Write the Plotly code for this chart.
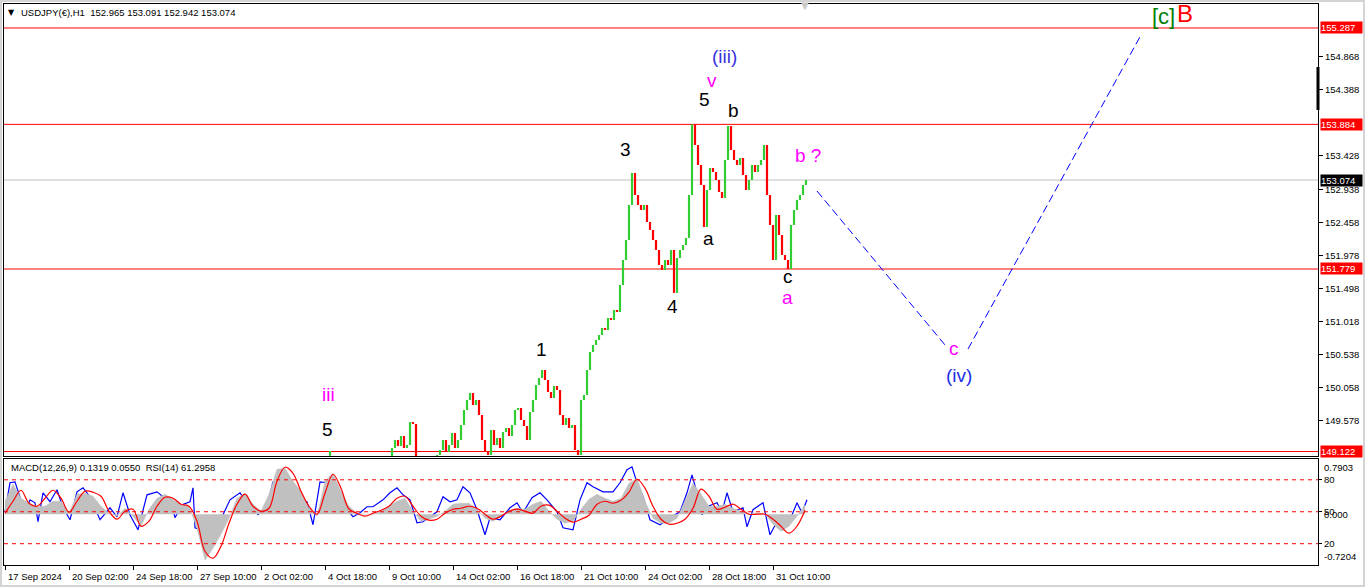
import plotly.graph_objects as go

# ---------------- data ----------------
title_text = "USDJPY(€),H1  152.965 153.091 152.942 153.074"
ind_text = "MACD(12,26,9) 0.1319 0.0550  RSI(14) 61.2958"

# hourly bar index (0 = first bar at left edge); visible price bars drawn every 3 hours
bar_start = 384
bar_step = 3
first_open = 148.970
closes = [
    148.999, 149.173, 149.290, 149.203, 149.348, 149.173, 149.217, 149.552, 149.523, 148.970,
    149.028, 148.970, 148.926, 148.926, 148.970, 148.999, 149.072, 149.144, 149.290, 149.115,
    149.217, 149.392, 149.173, 149.290, 149.508, 149.727, 149.872, 149.974, 149.799, 149.872,
    149.654, 149.290, 149.115, 149.072, 149.435, 149.217, 149.319, 149.173, 149.406, 149.465,
    149.348, 149.508, 149.727, 149.756, 149.581, 149.494, 149.290, 149.697, 149.872, 150.090,
    150.192, 150.309, 150.163, 149.989, 149.901, 150.076, 150.018, 149.654, 149.508, 149.610,
    149.465, 149.508, 149.144, 149.072, 149.872, 149.945, 150.309, 150.571, 150.673, 150.746,
    150.818, 150.920, 150.891, 151.066, 151.037, 151.182, 151.153, 151.546, 151.910, 152.201,
    152.711, 153.177, 152.856, 152.711, 152.638, 152.711, 152.463, 152.347, 152.201, 152.056,
    151.837, 151.764, 151.910, 151.837, 152.056, 151.430, 151.939, 152.056, 152.128, 152.230,
    152.856, 153.884, 153.584, 153.293, 153.002, 152.390, 152.929, 153.249, 153.191, 153.074,
    152.900, 152.812, 153.366, 153.860, 153.511, 153.366, 153.293, 153.395, 153.147, 152.929,
    153.074, 153.293, 153.191, 153.293, 153.366, 153.584, 152.856, 152.419, 151.910, 152.565,
    152.274, 151.983, 151.910, 151.779, 152.419, 152.638, 152.783, 152.856, 153.002, 153.074,
]
early_t = [325]
early_o = [149.060]
early_h = [149.130]
early_l = [149.060]
early_c = [149.130]

level_prices = [155.287, 153.884, 151.779, 149.122]
last_price = 153.074
price_ticks = [154.868, 154.388, 153.428, 152.938, 152.458, 151.978,
               151.498, 151.018, 150.538, 150.058, 149.578]

time_ticks = [0, 64, 128, 192, 256, 320, 384, 448, 512, 576, 640, 704, 768]
time_labels = ["17 Sep 2024", "20 Sep 02:00", "24 Sep 18:00", "27 Sep 10:00",
               "2 Oct 02:00", "4 Oct 18:00", "9 Oct 10:00", "14 Oct 02:00",
               "16 Oct 18:00", "21 Oct 10:00", "24 Oct 02:00", "28 Oct 18:00",
               "31 Oct 10:00"]

ind_start = 0
ind_step = 8
macd_hist = [
    0.184, 0.425, 0.227, 0.156, 0.113, 0.113, 0.184, 0.184, 0.014, 0.284,
    0.298, 0.255, 0.113, 0.014, -0.028, 0.085, -0.028, -0.170, 0.071, 0.227,
    0.284, 0.213, 0.142, 0.113, -0.199, -0.652, -0.482, -0.284, -0.057, 0.227,
    0.298, 0.142, 0.043, 0.284, 0.638, 0.652, 0.468, 0.326, 0.085, -0.028,
    0.468, 0.581, 0.326, 0.113, 0.014, 0.000, 0.000, 0.043, 0.113, 0.184,
    0.227, 0.043, -0.099, -0.071, -0.028, 0.043, 0.142, 0.156, 0.156, 0.071,
    -0.057, -0.099, -0.028, 0.043, 0.085, 0.071, 0.142, 0.184, 0.043, -0.071,
    -0.128, -0.099, 0.071, 0.213, 0.284, 0.227, 0.184, 0.227, 0.440, 0.510,
    0.184, -0.057, -0.128, -0.128, -0.057, 0.184, 0.440, 0.284, 0.113, 0.113,
    0.142, 0.085, 0.043, 0.000, 0.014, 0.000, -0.142, -0.241, -0.170, -0.028,
    0.132,
]
macd_signal = [
    0.014, 0.184, 0.340, 0.156, 0.113, 0.227, 0.340, 0.227, 0.028, 0.184,
    0.326, 0.312, 0.255, 0.043, -0.071, 0.043, 0.071, -0.170, -0.099, 0.113,
    0.241, 0.227, 0.142, 0.113, -0.099, -0.525, -0.624, -0.454, -0.128, 0.142,
    0.284, 0.113, 0.043, 0.085, 0.468, 0.666, 0.581, 0.326, 0.113, 0.000,
    0.298, 0.567, 0.369, 0.071, 0.014, -0.028, 0.014, 0.057, 0.113, 0.227,
    0.255, 0.113, -0.028, -0.085, -0.071, 0.014, 0.071, 0.085, 0.113, 0.085,
    0.000, -0.071, -0.028, 0.043, 0.071, 0.043, 0.014, 0.113, 0.128, 0.043,
    -0.057, -0.113, -0.071, -0.014, 0.142, 0.184, 0.156, 0.198, 0.312, 0.496,
    0.369, 0.113, -0.071, -0.142, -0.128, -0.071, 0.085, 0.355, 0.255, 0.071,
    0.099, 0.142, 0.071, 0.000, 0.000, 0.000, -0.071, -0.170, -0.269, -0.170,
    0.055,
]
rsi_t = [0, 5, 10, 15, 20, 25, 30, 33, 38, 45, 52, 58, 65, 72, 78, 85, 95, 105, 112, 118,
         125, 133, 142, 152, 158, 165, 170, 177, 185, 188, 190, 195, 202, 208, 213, 218, 225,
         235, 242, 248, 253, 262, 268, 277, 282, 288, 295, 302, 308, 315, 322, 328, 335, 342,
         348, 355, 362, 368, 378, 385, 392, 398, 405, 412, 418, 425, 432, 438, 445, 452, 458,
         465, 472, 480, 485, 495, 505, 512, 518, 527, 535, 542, 552, 558, 568, 575, 582, 588,
         598, 608, 615, 622, 627, 632, 638, 645, 655, 665, 675, 682, 687, 692, 697, 702, 712,
         717, 722, 728, 738, 742, 748, 758, 765, 772, 778, 785, 792, 797, 802]
rsi_v = [50.0, 77.2, 78.1, 64.1, 49.1, 61.2, 58.4, 40.6, 67.8, 59.4, 70.6, 53.7, 42.5, 68.7,
         72.5, 64.1, 42.5, 53.7, 45.3, 67.8, 47.2, 33.1, 65.9, 68.7, 64.1, 63.1, 44.4, 56.6,
         59.4, 72.5, 35.0, 33.1, 31.2, 40.6, 31.2, 47.2, 61.2, 67.8, 58.4, 53.7, 47.2, 54.7,
         78.1, 78.1, 73.4, 67.8, 61.2, 59.4, 37.8, 78.1, 77.2, 67.8, 56.6, 51.9, 45.3, 49.1,
         54.7, 54.7, 61.2, 67.8, 72.5, 65.9, 61.2, 39.7, 40.6, 45.3, 50.0, 64.1, 59.4, 61.2,
         73.4, 67.8, 51.9, 28.4, 44.4, 42.5, 53.7, 58.4, 49.1, 63.1, 67.8, 61.2, 50.0, 35.0,
         33.1, 61.2, 77.2, 73.4, 68.7, 68.7, 77.2, 89.4, 92.2, 77.2, 64.1, 42.5, 37.8, 44.4,
         50.0, 67.8, 84.7, 67.8, 47.2, 54.7, 58.4, 50.0, 67.8, 50.0, 53.7, 35.9, 51.9, 58.4,
         28.4, 40.6, 33.1, 42.5, 58.4, 49.1, 61.3]
rsi_levels = [80, 50, 20]
macd_top = 0.7903
macd_bottom = -0.7204

# wave labels: text, bar index, price, colour, size
wave_labels = [
    ("[c]", 1158, 155.447, "#008000", 22),
    ("B", 1180, 155.505, "#ff0000", 24),
    ("(iii)", 719, 154.879, "#3a32e0", 19),
    ("v", 707, 154.516, "#ff00ff", 19),
    ("5", 699, 154.239, "#000000", 19),
    ("b", 728, 154.079, "#000000", 19),
    ("3", 620, 153.511, "#000000", 19),
    ("b ?", 803, 153.424, "#ff00ff", 19),
    ("a", 703, 152.216, "#000000", 19),
    ("c", 783, 151.663, "#000000", 19),
    ("a", 782, 151.357, "#ff00ff", 19),
    ("4", 667, 151.240, "#000000", 19),
    ("1", 536, 150.600, "#000000", 19),
    ("c", 949, 150.629, "#ff00ff", 19),
    ("(iv)", 954, 150.236, "#2030e8", 19),
    ("iii", 323, 149.959, "#ff00ff", 19),
    ("5", 322, 149.450, "#000000", 19),
]
proj_t = [812, 940, None, 963, 1136]
proj_p = [152.914, 150.673, None, 150.614, 155.185]

# ---------------- figure ----------------
FONT = "Liberation Sans"
n = len(closes)
times = [bar_start + bar_step * i for i in range(n)]
opens = [first_open] + closes[:-1]
highs = [max(o, c) for o, c in zip(opens, closes)]
lows = [min(o, c) for o, c in zip(opens, closes)]
ind_t = [ind_start + ind_step * i for i in range(len(macd_hist))]

fig = go.Figure()
ohlc_style = dict(increasing=dict(line=dict(color="#32cd32", width=2.2)),
                  decreasing=dict(line=dict(color="#ff0000", width=2.2)),
                  tickwidth=0, showlegend=False, hoverinfo="skip",
                  xaxis="x", yaxis="y")
fig.add_trace(go.Ohlc(x=early_t, open=early_o, high=early_h, low=early_l, close=early_c, **ohlc_style))
fig.add_trace(go.Ohlc(x=times, open=opens, high=highs, low=lows, close=closes, **ohlc_style))

fig.add_trace(go.Scatter(x=proj_t, y=proj_p, mode="lines", connectgaps=False,
                         line=dict(color="#0000ff", width=1, dash="8px,4px"),
                         showlegend=False, hoverinfo="skip", xaxis="x", yaxis="y"))

# indicator window
fig.add_trace(go.Scatter(x=ind_t, y=macd_hist, mode="lines", fill="tozeroy",
                         fillcolor="#c0c0c0", line=dict(color="#c0c0c0", width=0.5),
                         showlegend=False, hoverinfo="skip", xaxis="x2", yaxis="y3"))
fig.add_trace(go.Scatter(x=ind_t, y=macd_signal, mode="lines", line=dict(color="#ff0000", width=1.2, shape="spline"),
                         showlegend=False, hoverinfo="skip", xaxis="x2", yaxis="y3"))
fig.add_trace(go.Scatter(x=rsi_t, y=rsi_v, mode="lines", line=dict(color="#0000ff", width=1.2),
                         showlegend=False, hoverinfo="skip", xaxis="x2", yaxis="y2"))

W, H = 1366, 588
L, R, T, B = 4, 48, 4, 23
ph = H - T - B
pw = W - L - R


def py(px_y):
    return 1 - (px_y - T) / ph


def px(px_x):
    return (px_x - L) / pw


xr = [-1, 1313]
tickfont = dict(family=FONT, size=9.5, color="#000000")
fig.update_layout(
    width=W, height=H, margin=dict(l=L, r=R, t=T, b=B, autoexpand=False),
    paper_bgcolor="#ffffff", plot_bgcolor="#ffffff",
    xaxis=dict(domain=[0, 1], anchor="y", range=xr, showticklabels=False, ticks="",
               showgrid=False, zeroline=False, showline=True, mirror=True, automargin=False,
               linecolor="#000000", linewidth=1, rangeslider=dict(visible=False)),
    yaxis=dict(domain=[py(456), 1], anchor="x", range=[149.057, 155.636], side="right",
               tickvals=price_ticks, ticktext=[f"{v:.3f}" for v in price_ticks],
               ticks="outside", ticklen=4, tickcolor="#000000", tickfont=tickfont,
               showgrid=False, zeroline=False, showline=True, mirror=True, automargin=False,
               linecolor="#000000", linewidth=1),
    xaxis2=dict(domain=[0, 1], anchor="y2", range=xr, matches="x", tickvals=time_ticks,
                showticklabels=False, ticks="outside", ticklen=4, tickcolor="#000000",
                showgrid=False, zeroline=False, showline=True, mirror=True, automargin=False,
                linecolor="#000000", linewidth=1, rangeslider=dict(visible=False)),
    yaxis2=dict(domain=[0, py(458.5)], anchor="x2", range=[0, 100], side="right",
                tickvals=rsi_levels, ticktext=[str(v) for v in rsi_levels],
                ticks="outside", ticklen=3, tickcolor="#000000", tickfont=tickfont,
                showgrid=False, zeroline=False, showline=True, mirror=True, automargin=False,
                linecolor="#000000", linewidth=1),
    yaxis3=dict(overlaying="y2", anchor="x2", range=[macd_bottom, macd_top], side="right",
                showticklabels=False, ticks="", showgrid=False, zeroline=False, showline=False,
                automargin=False),
)

shapes = []
for lv in level_prices:
    shapes.append(dict(type="line", xref="paper", x0=0, x1=1, yref="y", y0=lv, y1=lv,
                       line=dict(color="#ff0000", width=1), layer="below"))
shapes.append(dict(type="line", xref="paper", x0=0, x1=1, yref="y", y0=last_price, y1=last_price,
                   line=dict(color="#c0c0c0", width=1), layer="below"))
for lv in rsi_levels:
    shapes.append(dict(type="line", xref="paper", x0=0, x1=1, yref="y2", y0=lv, y1=lv,
                       line=dict(color="#ff0000", width=1, dash="4px,4px"), layer="above"))
# outer window frame and scale marker
shapes.append(dict(type="rect", xref="paper", yref="paper", x0=px(1), x1=px(1364), y0=py(586), y1=py(1),
                   line=dict(color="#d4d4d4", width=2)))
shapes.append(dict(type="line", xref="paper", yref="paper", x0=1, x1=1, y0=py(67), y1=py(110),
                   line=dict(color="#000000", width=3)))
fig.update_layout(shapes=shapes)

ann = []
for text, t, p, col, size in wave_labels:
    ann.append(dict(text=text, x=t, y=p, xref="x", yref="y", showarrow=False,
                    font=dict(family=FONT, size=size, color=col)))
for t, lab in zip(time_ticks, time_labels):
    ann.append(dict(text=lab, x=t, y=py(576), xref="x2", yref="paper", showarrow=False,
                    xanchor="left", yanchor="middle", xshift=1, font=tickfont))
box_levels = level_prices + [last_price]
box_colors = ["#ff0000"] * len(level_prices) + ["#000000"]
for lv, bc in zip(box_levels, box_colors):
    ann.append(dict(text=f"{lv:.3f}", x=px(1320), y=lv, xref="paper", yref="y", showarrow=False,
                    xanchor="left", yanchor="middle", bgcolor=bc, borderpad=0, width=41,
                    align="left", font=dict(family=FONT, size=9.5, color="#ffffff")))
ann.append(dict(text=f"{macd_top:.4f}", x=px(1322), y=macd_top, xref="paper", yref="y3",
                showarrow=False, xanchor="left", yanchor="top", yshift=-1, font=tickfont))
ann.append(dict(text="0.000", x=px(1322), y=0, xref="paper", yref="y3",
                showarrow=False, xanchor="left", yanchor="middle", font=tickfont))
ann.append(dict(text=f"{macd_bottom:.4f}", x=px(1322), y=macd_bottom, xref="paper", yref="y3",
                showarrow=False, xanchor="left", yanchor="bottom", yshift=1, font=tickfont))
ann.append(dict(text="▼", x=px(11), y=py(12), xref="paper", yref="paper", showarrow=False,
                xanchor="center", yanchor="middle", font=dict(family="DejaVu Sans", size=8, color="#000000")))
ann.append(dict(text=title_text, x=px(19), y=py(12), xref="paper", yref="paper", showarrow=False,
                xanchor="left", yanchor="middle", font=tickfont))
ann.append(dict(text=ind_text, x=px(9), y=py(467), xref="paper", yref="paper", showarrow=False,
                xanchor="left", yanchor="middle", font=tickfont))
ann.append(dict(text="▼", x=800, y=py(6), xref="x", yref="paper", showarrow=False,
                xanchor="center", yanchor="middle", font=dict(family="DejaVu Sans", size=10, color="#c8c8c8")))
fig.update_layout(annotations=ann)

fig.write_html("out.html", config={"displayModeBar": False},
               post_script="document.body.style.margin='0';document.body.style.overflow='hidden';")
